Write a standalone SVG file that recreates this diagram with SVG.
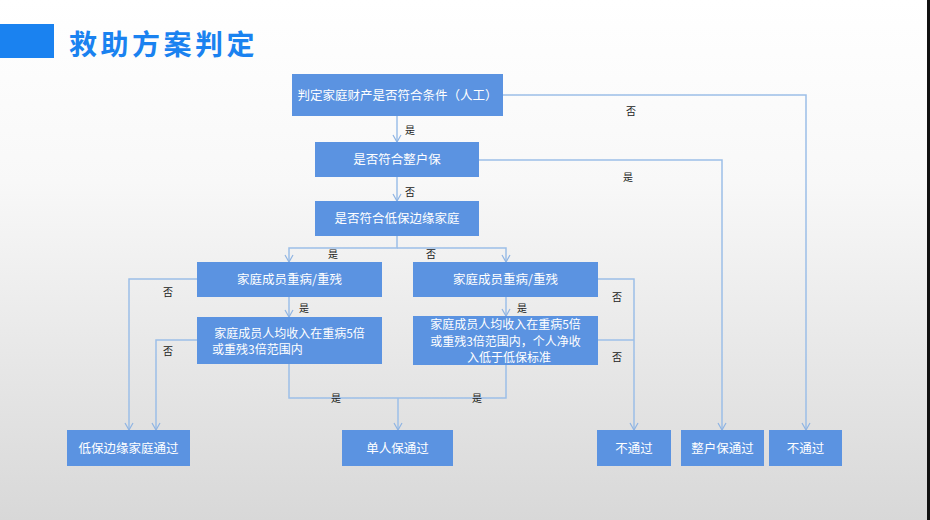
<svg xmlns="http://www.w3.org/2000/svg" width="930" height="520" viewBox="0 0 930 520">
<defs>
<linearGradient id="bg" x1="0" y1="0" x2="0" y2="1">
<stop offset="0" stop-color="#ffffff"/>
<stop offset="0.35" stop-color="#f8f8f8"/>
<stop offset="1" stop-color="#d8d8d8"/>
</linearGradient>
<marker id="arr" markerWidth="10" markerHeight="10" refX="8" refY="5" orient="auto" markerUnits="userSpaceOnUse">
<path d="M1,1 L8,5 L1,9" fill="none" stroke="#8fb4e3" stroke-width="1.2"/>
</marker>
<style>
.node rect{fill:#5b93e1;}
.node text{fill:#ffffff;font-family:"Noto Sans CJK SC","Noto Sans",sans-serif;font-size:12.5px;text-anchor:middle;}
.node text.m{font-size:12px;}
.conn path{fill:none;stroke:#9cbfe8;stroke-width:1.5;}
.lbl{fill:#222222;font-family:"Noto Sans CJK SC","Noto Sans",sans-serif;font-size:10px;text-anchor:middle;}
</style>
</defs>
<rect x="0" y="0" width="930" height="520" fill="url(#bg)"/>
<rect x="927" y="0" width="3" height="520" fill="#111111"/>
<rect x="0" y="24" width="54" height="34" fill="#1a82f0"/>
<text x="69" y="55" font-family="'Noto Sans CJK SC','Noto Sans',sans-serif" font-size="28" font-weight="bold" fill="#1a82f0" letter-spacing="3.5">救助方案判定</text>

<g class="conn">
<path d="M397,116 V142" marker-end="url(#arr)"/>
<path d="M397,177 V201" marker-end="url(#arr)"/>
<path d="M503,95 H806 V430" marker-end="url(#arr)"/>
<path d="M479,160 H722 V430" marker-end="url(#arr)"/>
<path d="M397,236 V248 H289 V262" marker-end="url(#arr)"/>
<path d="M397,248 H506 V262" marker-end="url(#arr)"/>
<path d="M289,297 V317" marker-end="url(#arr)"/>
<path d="M506,297 V316" marker-end="url(#arr)"/>
<path d="M197,279 H129 V430" marker-end="url(#arr)"/>
<path d="M197,340 H156 V430" marker-end="url(#arr)"/>
<path d="M598,279 H634 V430" marker-end="url(#arr)"/>
<path d="M598,340 H634"/>
<path d="M289,364 V398 H506 V365"/>
<path d="M398,398 V430" marker-end="url(#arr)"/>
</g>

<g id="labels">
<text class="lbl" x="410" y="134">是</text>
<text class="lbl" x="410" y="196">否</text>
<text class="lbl" x="631" y="115">否</text>
<text class="lbl" x="628" y="181">是</text>
<text class="lbl" x="333" y="258">是</text>
<text class="lbl" x="431" y="258">否</text>
<text class="lbl" x="304" y="312">是</text>
<text class="lbl" x="522" y="312">是</text>
<text class="lbl" x="168" y="296">否</text>
<text class="lbl" x="168" y="355">否</text>
<text class="lbl" x="617" y="301">否</text>
<text class="lbl" x="617" y="361">否</text>
<text class="lbl" x="336" y="402">是</text>
<text class="lbl" x="477" y="402">是</text>
</g>

<g id="n1" class="node"><rect x="292" y="74" width="211" height="42"/><text x="397.5" y="99.5">判定家庭财产是否符合条件（人工）</text></g>
<g id="n2" class="node"><rect x="315" y="142" width="164" height="35"/><text x="397" y="164">是否符合整户保</text></g>
<g id="n3" class="node"><rect x="315" y="201" width="164" height="35"/><text x="397" y="223">是否符合低保边缘家庭</text></g>
<g id="n4" class="node"><rect x="197" y="262" width="185" height="35"/><text x="289.5" y="284">家庭成员重病/重残</text></g>
<g id="n5" class="node"><rect x="197" y="317" width="185" height="47"/><text class="m" x="289.5" y="337.5">家庭成员人均收入在重病5倍</text><text class="m" x="212" y="354" style="text-anchor:start">或重残3倍范围内</text></g>
<g id="n6" class="node"><rect x="413" y="262" width="185" height="35"/><text x="505.5" y="284">家庭成员重病/重残</text></g>
<g id="n7" class="node"><rect x="413" y="316" width="185" height="49"/><text class="m" x="505.5" y="329">家庭成员人均收入在重病5倍</text><text class="m" x="505.5" y="345.5">或重残3倍范围内，个人净收</text><text class="m" x="509" y="362">入低于低保标准</text></g>
<g id="n8" class="node"><rect x="67" y="430" width="123" height="36"/><text x="128.5" y="452.5">低保边缘家庭通过</text></g>
<g id="n9" class="node"><rect x="342" y="430" width="111" height="36"/><text x="397.5" y="452.5">单人保通过</text></g>
<g id="n10" class="node"><rect x="597" y="430" width="74" height="36"/><text x="634" y="452.5">不通过</text></g>
<g id="n11" class="node"><rect x="681" y="430" width="83" height="36"/><text x="722.5" y="452.5">整户保通过</text></g>
<g id="n12" class="node"><rect x="769" y="430" width="73" height="36"/><text x="805.5" y="452.5">不通过</text></g>
</svg>
